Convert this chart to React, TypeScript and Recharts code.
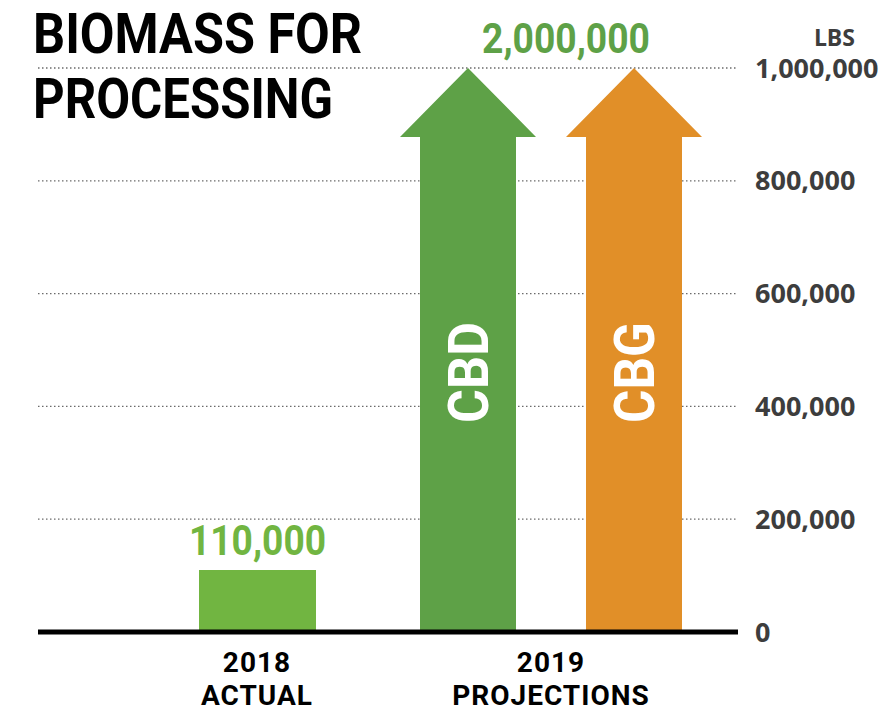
import { Bar, BarChart, CartesianGrid, LabelList, XAxis, YAxis } from 'recharts';

const years = ['2018', '2019'];
const yearNotes = ['ACTUAL', 'PROJECTIONS'];
const actualLbs = [110000, null];
const cbdLbs = [null, 1000000];
const cbgLbs = [null, 1000000];
const seriesNames = ['CBD', 'CBG'];
const yTicks = [0, 200000, 400000, 600000, 800000, 1000000];

const data = years.map((year, i) => ({
  year,
  note: yearNotes[i],
  actual: actualLbs[i],
  cbd: cbdLbs[i],
  cbg: cbgLbs[i],
}));

const projectedTotal = [...cbdLbs, ...cbgLbs].reduce((s: number, v) => s + (v ?? 0), 0);

const fmt = (v: number) => v.toLocaleString('en-US');

const GREEN_ACTUAL = '#71b541';
const GREEN_CBD = '#5ea147';
const ORANGE_CBG = '#e18f28';
const TICK_GREY = '#3d3d3d';

function ArrowShape(props: any) {
  const { x, y, width, height, fill } = props;
  if (!height || height <= 0) return null;
  const overhang = 20;
  const head = 69;
  const cx = x + width / 2;
  const bottom = y + height;
  const d = [
    `M${x},${bottom}`,
    `L${x},${y + head}`,
    `L${x - overhang},${y + head}`,
    `L${cx},${y}`,
    `L${x + width + overhang},${y + head}`,
    `L${x + width},${y + head}`,
    `L${x + width},${bottom}`,
    'Z',
  ].join(' ');
  return <path d={d} fill={fill} />;
}

function arrowLabel(name: string) {
  return (props: any) => {
    const { x, y, width, height, value } = props;
    if (value == null) return null;
    const cx = x + width / 2;
    const cy = y + height * 0.54;
    return (
      <text
        x={cx}
        y={cy}
        dy="0.355em"
        transform={`rotate(-90 ${cx} ${cy})`}
        textAnchor="middle"
        fill="#ffffff"
        fontFamily="Roboto"
        fontWeight={700}
        fontSize={56}
        textLength={101}
        lengthAdjust="spacingAndGlyphs"
      >
        {name}
      </text>
    );
  };
}

function actualLabel(props: any) {
  const { x, y, width, value } = props;
  if (value == null) return null;
  return (
    <text
      x={x + width / 2}
      y={y - 15}
      textAnchor="middle"
      fill={GREEN_ACTUAL}
      fontFamily="Roboto"
      fontWeight={700}
      fontSize={42}
      textLength={137}
      lengthAdjust="spacingAndGlyphs"
    >
      {fmt(Number(value))}
    </text>
  );
}

function YearTick(props: any) {
  const { x, y, payload } = props;
  return (
    <text x={x} y={y} textAnchor="middle" fill="#000" fontFamily="Roboto" fontWeight={700} fontSize={28} letterSpacing={1}>
      <tspan x={x} dy={40}>{payload.value}</tspan>
      <tspan x={x} dy={33}>{yearNotes[payload.index]}</tspan>
    </text>
  );
}

function LbsTick(props: any) {
  const { x, y, payload } = props;
  return (
    <text x={x} y={y} dy="0.355em" textAnchor="start" fill={TICK_GREY} fontFamily="Open Sans" fontWeight={700} fontSize={27}>
      {fmt(payload.value)}
    </text>
  );
}

function LbsLabel(props: any) {
  const { viewBox } = props;
  return (
    <text x={viewBox.x + 117} y={viewBox.y - 22} textAnchor="end" fill={TICK_GREY} fontFamily="Open Sans" fontWeight={700} fontSize={23}>
      LBS
    </text>
  );
}

const xPadding = { left: 72, right: 40 };

export default function App() {
  return (
    <div style={{ position: 'absolute', left: 0, top: 0, width: 889, height: 709, background: '#fff' }}>
      <BarChart width={889} height={709} data={data} margin={{ top: 68, right: 0, left: 38, bottom: 0 }} barGap={70}>
        <CartesianGrid xAxisId="year" vertical={false} stroke="#6b6b6b" strokeDasharray="1.5 2.5" strokeWidth={1.3} />
        <XAxis
          xAxisId="year"
          dataKey="year"
          height={77}
          padding={xPadding}
          axisLine={{ stroke: '#000', strokeWidth: 5 }}
          tickLine={false}
          tickSize={0}
          tickMargin={0}
          tick={<YearTick />}
          interval={0}
        />
        <XAxis xAxisId="proj" dataKey="year" hide height={0} padding={xPadding} />
        <YAxis
          orientation="right"
          width={151}
          domain={[0, 1000000]}
          ticks={yTicks}
          axisLine={false}
          tickLine={false}
          tickSize={6}
          tickMargin={11}
          tick={<LbsTick />}
          label={<LbsLabel />}
        />
        <Bar xAxisId="year" dataKey="actual" fill={GREEN_ACTUAL} barSize={117} isAnimationActive={false}>
          <LabelList dataKey="actual" content={actualLabel} />
        </Bar>
        <Bar xAxisId="proj" dataKey="cbd" name={seriesNames[0]} fill={GREEN_CBD} barSize={96} shape={<ArrowShape />} isAnimationActive={false}>
          <LabelList dataKey="cbd" content={arrowLabel(seriesNames[0])} />
        </Bar>
        <Bar xAxisId="proj" dataKey="cbg" name={seriesNames[1]} fill={ORANGE_CBG} barSize={96} shape={<ArrowShape />} isAnimationActive={false}>
          <LabelList dataKey="cbg" content={arrowLabel(seriesNames[1])} />
        </Bar>
      </BarChart>
      <svg width={889} height={709} style={{ position: 'absolute', left: 0, top: 0, pointerEvents: 'none' }}>
        <text x={33} y={53} fill="#000" fontFamily="Roboto" fontWeight={700} fontSize={56} textLength={329} lengthAdjust="spacingAndGlyphs">
          BIOMASS FOR
        </text>
        <text x={33} y={118} fill="#000" fontFamily="Roboto" fontWeight={700} fontSize={56} textLength={300} lengthAdjust="spacingAndGlyphs">
          PROCESSING
        </text>
        <text x={566} y={53} textAnchor="middle" fill={GREEN_CBD} fontFamily="Roboto" fontWeight={700} fontSize={42} textLength={168} lengthAdjust="spacingAndGlyphs">
          {fmt(projectedTotal)}
        </text>
      </svg>
    </div>
  );
}
